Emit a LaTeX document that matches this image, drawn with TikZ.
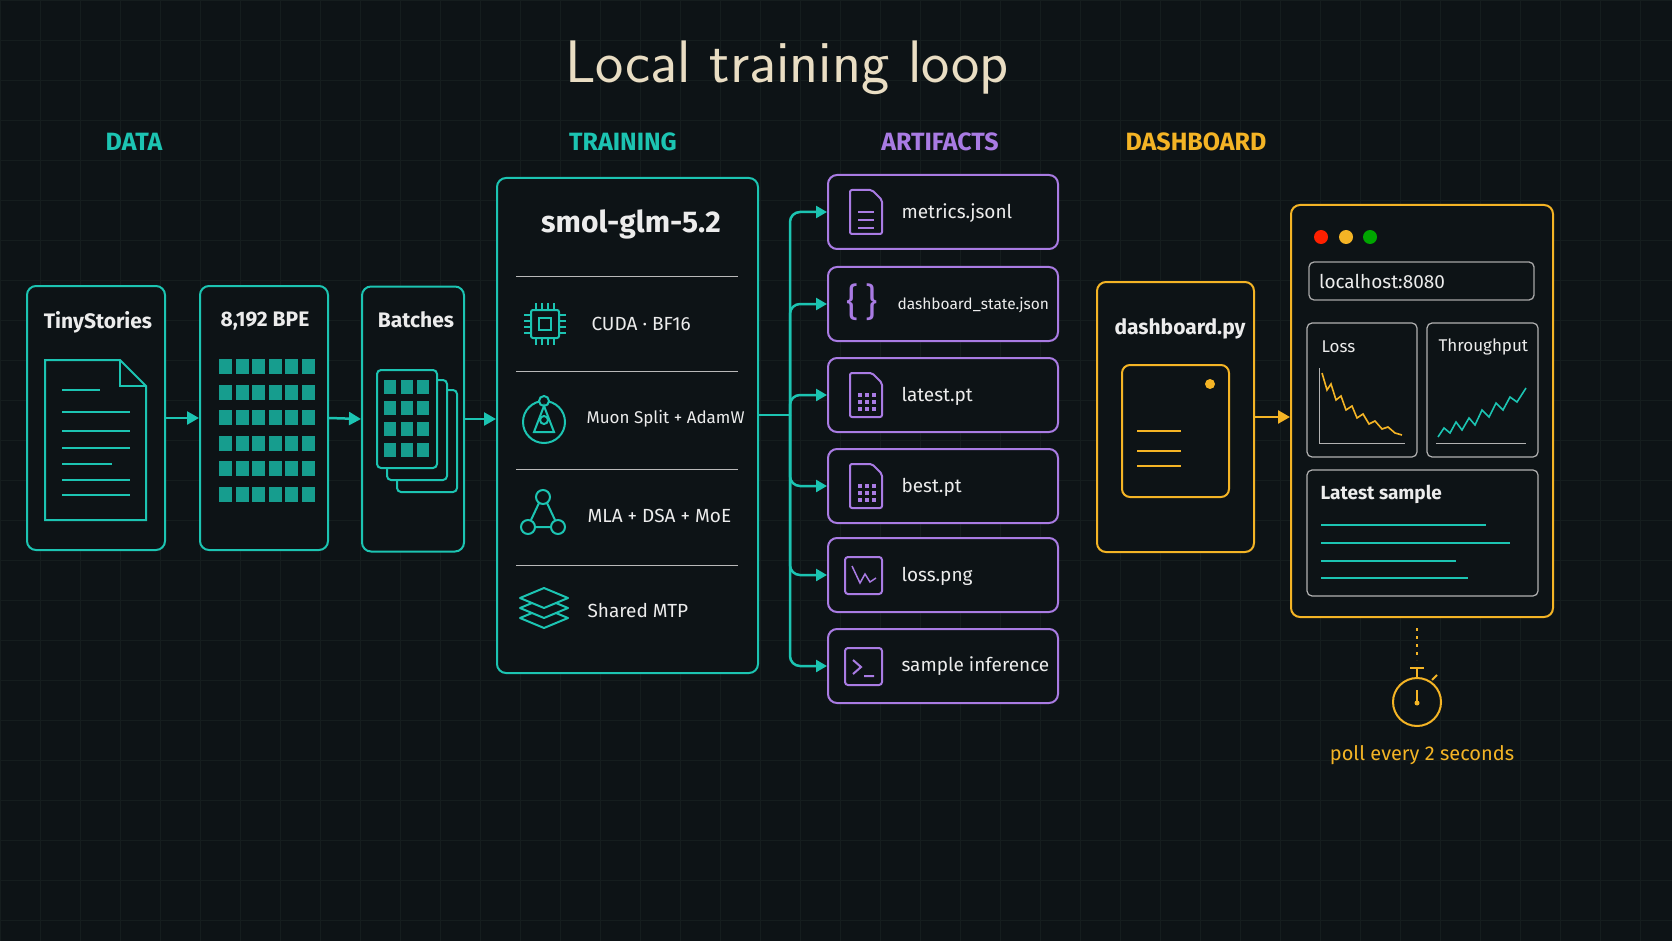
\documentclass[tikz,border=0pt]{standalone}
\usepackage{fontspec}
\setmainfont{Fira Sans}
\usetikzlibrary{arrows.meta}
\definecolor{bg}{HTML}{0D1316}
\definecolor{tl}{HTML}{1CC4B2}
\definecolor{pu}{HTML}{A97BE3}
\definecolor{og}{HTML}{F4B425}
\definecolor{tx}{HTML}{ECECEC}
\definecolor{ttl}{HTML}{E9DDC3}
\definecolor{grd}{HTML}{151D1E}
\begin{document}
\begin{tikzpicture}[x=1pt,y=-1pt,
  box/.style={rounded corners=9pt, line width=2pt, fill=bg},
  lbl/.style={text=tx, font=\fontsize{21}{24}\selectfont\bfseries},
  itxt/.style={text=tx, font=\fontsize{19}{24}\selectfont, anchor=west},
  hdr/.style={font=\fontsize{25}{28}\selectfont\bfseries},
  tarr/.style={tl, line width=2.5pt, -{Triangle[length=12pt,width=13pt]}},
  conn/.style={tl, line width=2.5pt, rounded corners=10pt, -{Triangle[length=11pt,width=12pt]}},
  ic/.style={line width=2pt},
]
\useasboundingbox[fill=bg] (0,0) rectangle (1672,941);
\foreach \x in {0,40,...,1672} \draw[grd, line width=0.6pt] (\x,0) -- (\x,941);
\foreach \y in {0,40,...,941} \draw[grd, line width=0.6pt] (0,\y) -- (1672,\y);

\node[text=ttl, font=\fontsize{60}{66}\selectfont\sffamily] (title) at (787,68) {Local training loop};
\node[hdr, text=tl] (hdata) at (134,142) {DATA};
\node[hdr, text=tl] (htrain) at (623,142) {TRAINING};
\node[hdr, text=pu] (hart) at (940,142) {ARTIFACTS};
\node[hdr, text=og] (hdash) at (1196,142) {DASHBOARD};

% DATA boxes
\node[box, draw=tl, minimum width=138pt, minimum height=264pt] (ts) at (96,418) {};
\node[lbl, anchor=north] (tsl) at (98,308) {TinyStories};
\draw[tl, ic] (45,360) -- (120,360) -- (146,386) -- (146,520) -- (45,520) -- cycle;
\draw[tl, ic] (120,360) -- (120,386) -- (146,386);
\foreach \y/\l in {390/38,412/68,431/68,448/68,464/50,480/68,495/68} \draw[tl, ic] (62,\y) -- ++(\l,0);

\node[box, draw=tl, minimum width=128pt, minimum height=264pt] (bpe) at (264,418) {};
\node[lbl, anchor=north] (bpel) at (265,308) {8,192 BPE};
\foreach \i in {0,...,5} \foreach \j in {0,...,5}
  \fill[tl!80!black] (219+\i*16.5,359+\j*25.6) rectangle ++(13,15);

\node[box, draw=tl, minimum width=102pt, minimum height=265pt] (bat) at (413,419) {};
\node[lbl, anchor=north] (batl) at (416,308) {Batches};
\draw[tl, ic, rounded corners=4pt, fill=bg] (397,390) rectangle (457,492);
\draw[tl, ic, rounded corners=4pt, fill=bg] (387,380) rectangle (447,480);
\draw[tl, ic, rounded corners=4pt, fill=bg] (377,370) rectangle (437,468);
\foreach \i in {0,1,2} \foreach \j in {0,1,2,3}
  \fill[tl!80!black] (384+\i*16.5,380+\j*21) rectangle ++(12,14);

\draw[tarr] (ts.east) -- (bpe.west);
\draw[tarr] (bpe.east) -- (bat.west);

% TRAINING
\node[box, draw=tl, minimum width=261pt, minimum height=495pt] (tr) at (627.5,425.5) {};
\draw[tarr] (bat.east) -- (bat.east-|tr.west);
\node[text=tx, font=\fontsize{30}{34}\selectfont\bfseries] (trl) at (631,224) {smol-glm-5.2};
\foreach \y in {276,371,469,565} \draw[gray!55, line width=1pt] (516,\y) -- (738,\y);
\node[itxt] (r1) at (588,324) {CUDA · BF16};
\node[itxt, font=\fontsize{17}{22}\selectfont] (r2) at (583,419) {Muon Split + AdamW};
\node[itxt] (r3) at (584,516) {MLA + DSA + MoE};
\node[itxt] (r4) at (584,610) {Shared MTP};
% chip icon
\draw[tl, ic, rounded corners=2pt] (531,310) rectangle (559,338);
\draw[tl, ic] (539,318) rectangle (551,330);
\foreach \k in {-9,-3,3,9} {\draw[tl, line width=1.5pt] (545+\k,310) -- ++(0,-7) (545+\k,338) -- ++(0,7) (531,324+\k) -- ++(-7,0) (559,324+\k) -- ++(7,0);}
% muon icon
\draw[tl, ic] (544,422) circle (21);
\draw[tl, ic, fill=bg] (544,401) circle (5);
\draw[tl, ic] (544,406) -- (534,432) -- (554,432) -- cycle;
\draw[tl, ic] (544,420) circle (4);
% graph icon
\draw[tl, ic] (543,497) circle (7) (528,527) circle (7) (558,527) circle (7);
\draw[tl, ic] (539,503) -- (531,520) (547,503) -- (555,520) (535,527) -- (551,527);
% layers icon
\foreach \d in {20,10,0} \draw[tl, ic, line join=round, fill=bg] (520,598+\d) -- (544,588+\d) -- (568,598+\d) -- (544,608+\d) -- cycle;

% ARTIFACTS
\coordinate (split) at (790,415);
\draw[tl, line width=2.5pt] (tr.east|-split) -- (split);
\foreach \n/\y in {a1/212,a2/304,a3/395,a4/486,a5/575,a6/666} {
  \node[box, draw=pu, minimum width=230pt, minimum height=74pt] (\n) at (943,\y) {};
  \draw[conn] (split) |- (\n.west);
}
\node[itxt] (t1) at (898,213) {metrics.jsonl};
\node[itxt, font=\fontsize{15.5}{20}\selectfont] (t2) at (894,305) {dashboard\_state.json};
\node[itxt] (t3) at (898,396) {latest.pt};
\node[itxt] (t4) at (898,487) {best.pt};
\node[itxt] (t5) at (898,576) {loss.png};
\node[itxt] (t6) at (898,666) {sample inference};
% doc icon
\draw[pu, ic, rounded corners=2pt] (850,190) -- (872,190) -- (882,200) -- (882,234) -- (850,234) -- cycle;
\foreach \y in {212,220,228} \draw[pu, ic] (858,\y) -- (874,\y);
\node[text=pu, font=\fontsize{38}{40}\selectfont] (br) at (862,302) {\{\,\}};
\foreach \y in {395,486} {
  \draw[pu, ic, rounded corners=2pt] (850,\y-22) -- (872,\y-22) -- (882,\y-12) -- (882,\y+22) -- (850,\y+22) -- cycle;
  \foreach \i in {0,1,2} \foreach \j in {0,1,2} \fill[pu] (858+\i*7,\y-2+\j*7) rectangle ++(4,4);
}
\draw[pu, ic, rounded corners=3pt] (845,557) rectangle (882,594);
\draw[pu, line width=1.5pt] (852,566) -- (860,583) -- (865,574) -- (870,582) -- (876,578);
\draw[pu, ic, rounded corners=3pt] (845,648) rectangle (882,685);
\draw[pu, ic] (853,660) -- (861,667) -- (853,674) (864,676) -- (874,676);

% DASHBOARD
\node[box, draw=og, minimum width=157pt, minimum height=270pt] (dp) at (1175.5,417) {};
\node[lbl, anchor=north] (dpl) at (1180,315) {dashboard.py};
\draw[og, ic, rounded corners=8pt] (1122,365) rectangle (1229,497);
\fill[og] (1210,384) circle (5);
\foreach \y in {431,451,466} \draw[og, ic] (1137,\y) -- (1181,\y);

\node[box, draw=og, minimum width=262pt, minimum height=412pt] (web) at (1422,411) {};
\draw[og, line width=2.5pt, -{Triangle[length=12pt,width=13pt]}] (dp.east) -- (dp.east-|web.west);
\fill[red!75!orange] (1321,237) circle (7);
\fill[og] (1346,237) circle (7);
\fill[green!65!black] (1370,237) circle (7);
\node[draw=gray!70, line width=1.3pt, rounded corners=5pt, minimum width=225pt, minimum height=38pt, text=tx, font=\fontsize{19}{22}\selectfont, text width=205pt] (url) at (1421.5,281) {localhost:8080};
\node[draw=gray!60, line width=1.2pt, rounded corners=5pt, minimum width=110pt, minimum height=134pt] (lp) at (1362,390) {};
\node[draw=gray!60, line width=1.2pt, rounded corners=5pt, minimum width=111pt, minimum height=134pt] (tp) at (1482.5,390) {};
\node[text=tx, font=\fontsize{17}{20}\selectfont, anchor=west] (lpl) at (1318,347) {Loss};
\node[text=tx, font=\fontsize{17}{20}\selectfont, anchor=west] (tpl) at (1435,347) {Throughput};
\draw[gray!60, line width=1pt] (1319,368) -- (1319,443) -- (1405,443);
\draw[og, line width=1.6pt] (1322,373) -- (1327,390) -- (1331,384) -- (1336,400) -- (1341,396) -- (1346,410) -- (1352,406) -- (1357,418) -- (1363,414) -- (1369,424) -- (1375,421) -- (1382,429) -- (1388,427) -- (1395,433) -- (1402,435);
\draw[gray!60, line width=1pt] (1436,443) -- (1526,443);
\draw[tl, line width=1.6pt] (1438,437) -- (1444,428) -- (1450,433) -- (1456,422) -- (1462,430) -- (1469,418) -- (1475,425) -- (1482,410) -- (1489,417) -- (1496,403) -- (1503,410) -- (1510,397) -- (1517,402) -- (1526,388);
\node[draw=gray!60, line width=1.2pt, rounded corners=5pt, minimum width=231pt, minimum height=126pt] (ls) at (1422.5,533) {};
\node[text=tx, font=\fontsize{19}{22}\selectfont\bfseries, anchor=west] (lsl) at (1317,494) {Latest sample};
\draw[tl, line width=2.5pt] (1321,525) -- (1486,525) (1321,543) -- (1510,543) (1321,561) -- (1456,561) (1321,578) -- (1468,578);

% poll
\coordinate (pd) at (1417,660);
\draw[og, line width=2pt, dash pattern=on 3pt off 5pt] (web.south-|pd) ++(0,10) -- (pd);
\draw[og, ic] (1417,702) circle (24);
\draw[og, ic] (1410,668) -- (1424,668) (1417,668) -- (1417,678);
\draw[og, ic] (1417,690) -- (1417,703);
\fill[og] (1417,703) circle (2.5);
\draw[og, ic] (1432,680) -- (1437,675);
\node[text=og, font=\fontsize{20}{24}\selectfont] (poll) at (1422,755) {poll every 2 seconds};
\end{tikzpicture}
\end{document}
